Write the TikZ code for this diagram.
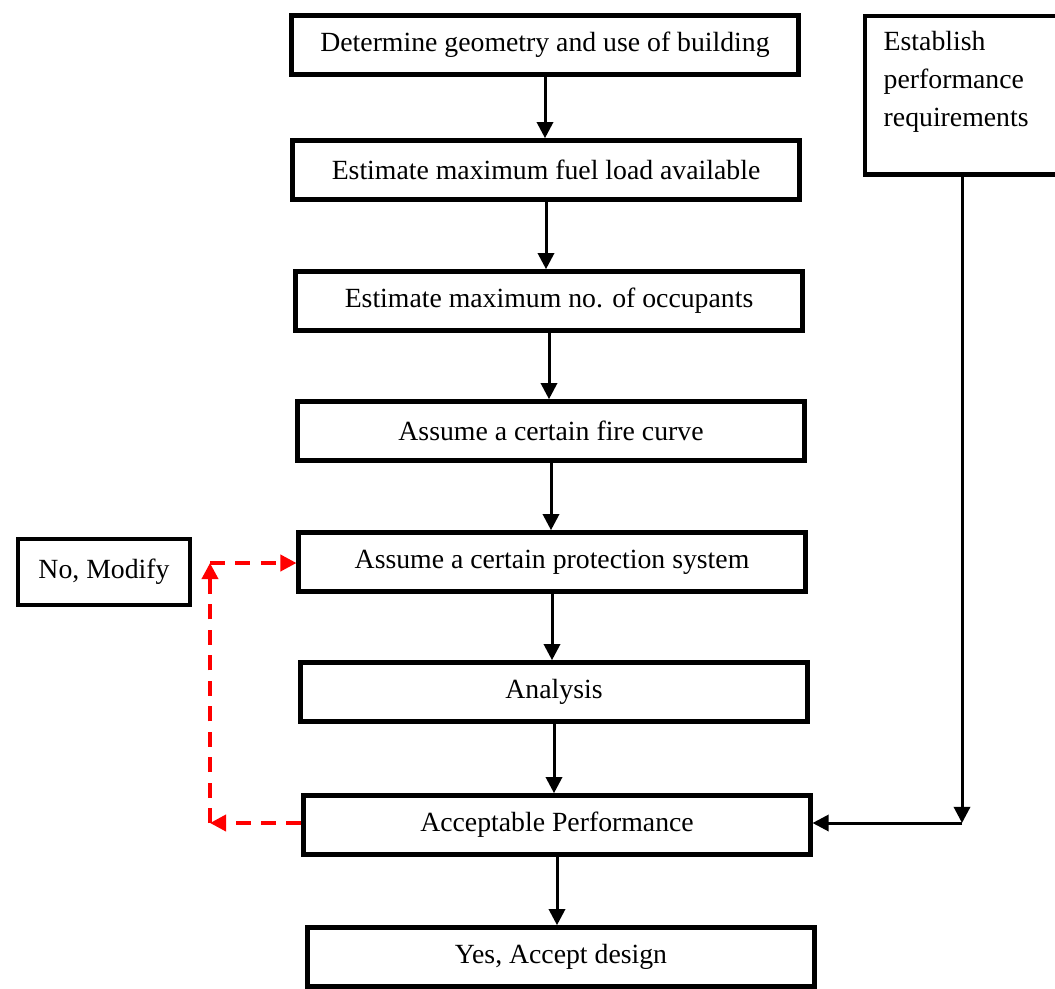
\documentclass[tikz,border=0pt]{standalone}
\usepackage{fontspec}
\setmainfont{Liberation Serif}
\usetikzlibrary{arrows.meta}

\begin{document}
\begin{tikzpicture}[x=0.0152cm, y=-0.0152cm,
	box/.style={draw, line width=1.9pt, minimum width=7.7cm, minimum height=0.9cm, inner sep=2pt, font=\fontsize{12}{14}\selectfont},
	flow/.style={line width=1.3pt, -{Triangle[width=7pt,length=7pt]}},
	back/.style={red, line width=1.6pt, dash pattern=on 6.5pt off 4.5pt, -{Triangle[width=7pt,length=7pt]}}]

\useasboundingbox (0,0) rectangle (1055,988);
\clip (0,0) rectangle (1055,988);

% Cadena principal
\node[box] (geom) at (545,45) {Determine geometry and use of building};
\node[box] (fuel) at (546,170) {Estimate maximum fuel load available};
\node[box] (occ)  at (549,301) {Estimate maximum no. of occupants};
\node[box] (fire) at (551,431) {Assume a certain fire curve};
\node[box] (prot) at (552,562) {Assume a certain protection system};
\node[box] (anal) at (554,692) {Analysis};
\node[box] (acc)  at (557,825) {Acceptable Performance};
\node[box] (yes)  at (561,957) {Yes, Accept design};

\draw[flow] (geom) -- (geom.south |- fuel.north);
\draw[flow] (fuel) -- (fuel.south |- occ.north);
\draw[flow] (occ) -- (occ.south |- fire.north);
\draw[flow] (fire) -- (fire.south |- prot.north);
\draw[flow] (prot) -- (prot.south |- anal.north);
\draw[flow] (anal) -- (anal.south |- acc.north);
\draw[flow] (acc) -- (acc.south |- yes.north);

% Requisitos
\node[draw, line width=1.9pt, anchor=north west, inner xsep=8pt, inner ysep=6.5pt] (req) at (863,14)
	{\begin{minipage}[c][1.95cm][t]{2.6cm}\fontsize{12}{16.4}\selectfont
	Establish\\performance\\requirements\end{minipage}};
\coordinate (c1) at (962,823);
\draw[flow] (req.south -| c1) -- (c1);
\draw[flow] (c1) -- (c1 -| acc.east);

% Retorno
\node[box, minimum width=2.62cm, minimum height=1.0cm] (mod) at (104,572) {No, Modify};
\coordinate (c2) at (210,823);
\coordinate (c3) at (210,563);
\draw[back] (acc.west |- c2) -- (c2);
\draw[back] (c2) -- (c3);
\draw[back] (c3) -- (c3 -| prot.west);
\end{tikzpicture}
\end{document}
